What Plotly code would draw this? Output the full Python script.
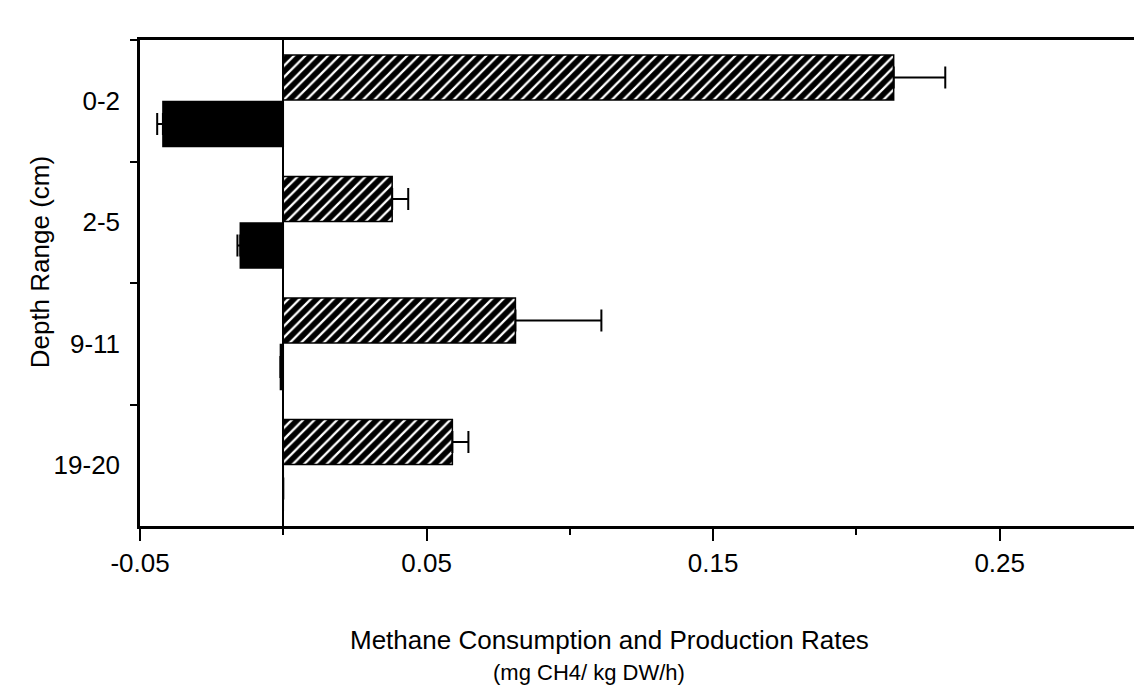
import plotly.graph_objects as go

depths = ["0-2", "2-5", "9-11", "19-20"]
production = [0.213, 0.038, 0.081, 0.059]
production_err = [0.018, 0.0056, 0.030, 0.0056]
consumption = [-0.042, -0.015, -0.001, 0.0]
consumption_err = [0.002, 0.001, 0.0, 0.0]

major_ticks = [-0.05, 0.05, 0.15, 0.25]
major_labels = ["-0.05", "0.05", "0.15", "0.25"]
minor_ticks = [0.0, 0.1, 0.2, 0.3]

FONT = "Liberation Sans, Arial, sans-serif"

fig = go.Figure()
fig.add_trace(go.Bar(
    y=depths, x=production, orientation="h", name="Production",
    marker=dict(color="black", line=dict(color="black", width=1.5),
                pattern=dict(shape="/", fgcolor="white", bgcolor="black",
                             size=8, solidity=0.28, fillmode="replace")),
    error_x=dict(type="data", symmetric=False, array=production_err,
                 arrayminus=[0] * len(depths), color="black", thickness=2, width=11),
))
fig.add_trace(go.Bar(
    y=depths, x=consumption, orientation="h", name="Consumption",
    marker=dict(color="black", line=dict(color="black", width=1.5)),
    error_x=dict(type="data", symmetric=False, array=[0] * len(depths),
                 arrayminus=consumption_err, color="black", thickness=2, width=11),
))

W, H = 1142, 686
L, R, T, B = 132, 4, 32, 168

fig.update_layout(
    width=W, height=H,
    margin=dict(l=L, r=R, t=T, b=B),
    paper_bgcolor="white", plot_bgcolor="white",
    barmode="group", bargap=0.235, bargroupgap=0.03,
    showlegend=False,
    font=dict(family=FONT, size=26, color="black"),
    xaxis=dict(
        range=[-0.05, 0.3],
        tickmode="array", tickvals=major_ticks, ticktext=major_labels,
        ticks="outside", ticklen=12, tickwidth=2, tickcolor="black",
        ticklabelstandoff=0,
        showline=True, linecolor="black", linewidth=2.5, mirror=True,
        showgrid=False,
        zeroline=True, zerolinecolor="black", zerolinewidth=2,
        minor=dict(tickvals=minor_ticks, ticks="outside", ticklen=6,
                   tickwidth=2, tickcolor="black", showgrid=False),
        tickfont=dict(size=26),
    ),
    yaxis=dict(
        categoryorder="array", categoryarray=depths, autorange="reversed",
        ticks="outside", ticklen=7, tickwidth=2, tickcolor="black",
        tickson="boundaries", ticklabelstandoff=12,
        showline=True, linecolor="black", linewidth=2.5, mirror=True,
        showgrid=False, zeroline=False,
        tickfont=dict(size=26),
    ),
)

fig.add_annotation(text="Depth Range (cm)", textangle=-90,
                   xref="paper", yref="paper", x=-(L - 32) / (W - L - R),
                   y=1 - (254 - T) / (H - T - B), xanchor="center", yanchor="middle",
                   showarrow=False, font=dict(size=26))
fig.add_annotation(text="Methane Consumption and Production Rates",
                   xref="paper", yref="paper", x=(603 - L) / (W - L - R),
                   y=1 - (632 - T) / (H - T - B), xanchor="center", yanchor="middle",
                   showarrow=False, font=dict(size=26))
fig.add_annotation(text="(mg CH4/ kg DW/h)",
                   xref="paper", yref="paper", x=(582 - L) / (W - L - R),
                   y=1 - (664 - T) / (H - T - B), xanchor="center", yanchor="middle",
                   showarrow=False, font=dict(size=22))

fig.write_html("out.html")
